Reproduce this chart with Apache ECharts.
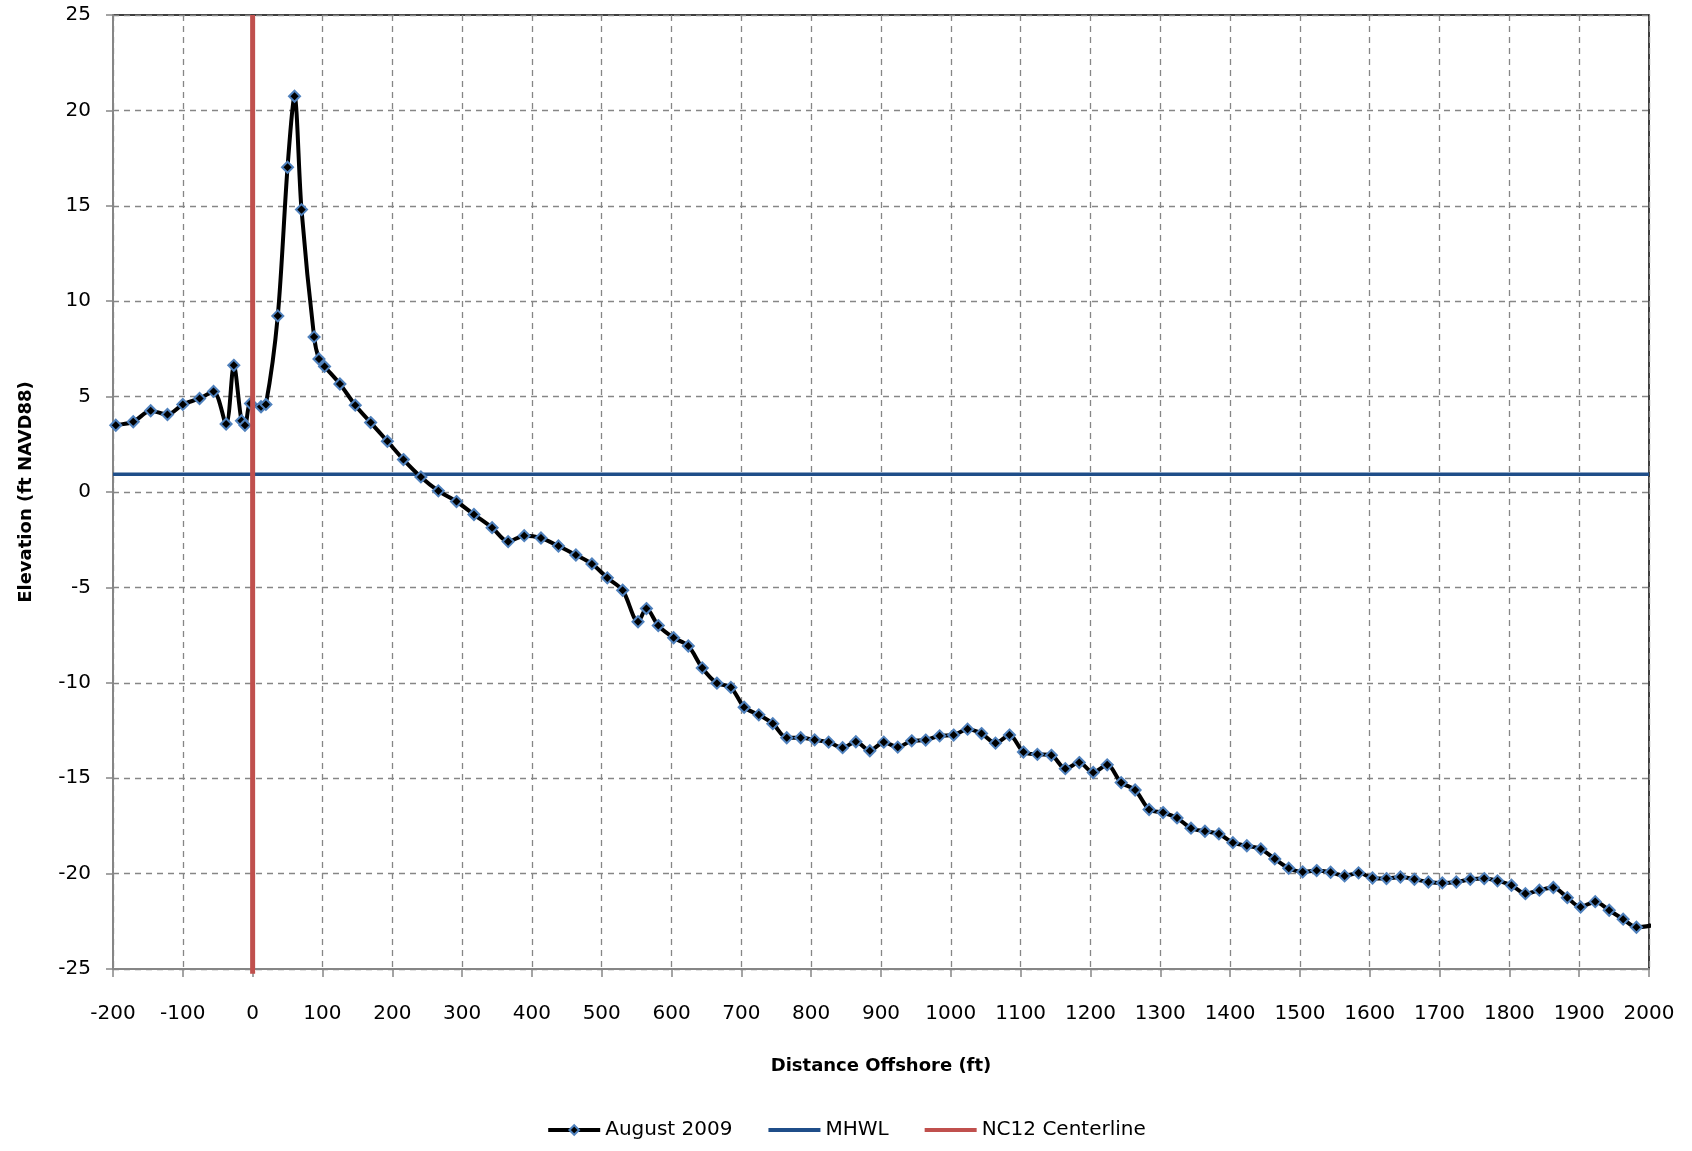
<!DOCTYPE html>
<html>
<head>
<meta charset="utf-8">
<script src="https://cdn.jsdelivr.net/npm/echarts@6/dist/echarts.min.js"></script>
<style>html,body{margin:0;padding:0;background:#fff;}#chart{width:1692px;height:1151px;}</style>
</head>
<body>
<div id="chart"></div>
<script>
// Distance offshore (ft) of each survey point, August 2009
const distance = [-204,-196,-171,-146,-122,-100,-76,-56,-38,-27,-16,-11,-3,12,19,36,50,60,70,88,95,103,125,147,169,
  193,216,241,266,292,317,343,366,389,413,438,463,486,508,530,552,564,581,603,624,644,
  665,685,704,725,745,765,785,805,825,845,864,884,904,924,944,964,984,1004,1024,1044,1064,1084,1104,1124,1144,1164,1184,1204,
  1224,1244,1264,1284,1304,1324,1344,1364,1384,1404,1424,1444,1464,1484,1504,1524,1544,1564,1584,1604,1624,1644,
  1664,1684,1704,1724,1744,1764,1783,1803,1823,1843,1863,1883,1902,1923,1943,1963,1982,2004];
// Elevation (ft NAVD88)
const elevation = [3.45,3.50,3.68,4.26,4.06,4.59,4.90,5.27,3.56,6.64,3.73,3.50,4.64,4.47,4.59,9.23,17.02,20.74,14.80,8.13,6.97,6.58,5.66,4.55,3.64,
  2.66,1.70,0.79,0.06,-0.50,-1.18,-1.87,-2.60,-2.29,-2.41,-2.83,-3.30,-3.77,-4.50,-5.15,-6.80,-6.11,-7.00,-7.64,-8.07,-9.22,
  -10.02,-10.24,-11.28,-11.68,-12.14,-12.88,-12.88,-12.99,-13.11,-13.40,-13.09,-13.56,-13.11,-13.37,-13.04,-13.00,-12.78,-12.74,-12.43,-12.66,-13.16,-12.74,-13.63,-13.75,-13.80,-14.50,-14.18,-14.70,
  -14.30,-15.23,-15.62,-16.64,-16.80,-17.08,-17.62,-17.78,-17.92,-18.38,-18.54,-18.71,-19.23,-19.72,-19.91,-19.84,-19.93,-20.12,-19.96,-20.23,-20.26,-20.18,
  -20.30,-20.44,-20.49,-20.44,-20.30,-20.26,-20.38,-20.61,-21.05,-20.87,-20.73,-21.26,-21.75,-21.47,-21.92,-22.39,-22.81,-22.72];
const mhwlElevation = 0.93;
const centerlineDistance = 0;
const xTicks = {min: -200, max: 2000, interval: 100};
const yTicks = {min: -25, max: 25, interval: 5};
const seriesNames = ['August 2009', 'MHWL', 'NC12 Centerline'];

const profile = distance.map((d, i) => [d, elevation[i]]);
const mhwl = [[xTicks.min, mhwlElevation], [xTicks.max, mhwlElevation]];
const centerline = [[centerlineDistance, yTicks.min - 0.25], [centerlineDistance, yTicks.max]];

const FONT = 'DejaVu Sans';
const hiddenMarker = {color: 'transparent', borderColor: 'transparent', borderWidth: 0};
const chart = echarts.init(document.getElementById('chart'), null, {renderer: 'canvas'});
chart.setOption({
  animation: false,
  backgroundColor: '#fff',
  textStyle: {fontFamily: FONT},
  grid: {left: 113, top: 15, right: 43, bottom: 182, show: true, borderColor: '#000', borderWidth: 1.5, backgroundColor: 'transparent'},
  legend: {
    bottom: 6, left: 'center', itemWidth: 52, itemHeight: 12, itemGap: 34,
    textStyle: {fontFamily: FONT, fontSize: 20, color: '#000'},
    lineStyle: {width: 4},
    data: [
      {name: seriesNames[0]},
      {name: seriesNames[1], itemStyle: hiddenMarker},
      {name: seriesNames[2], itemStyle: hiddenMarker}
    ]
  },
  xAxis: {
    type: 'value', min: xTicks.min, max: xTicks.max, interval: xTicks.interval,
    name: 'Distance Offshore (ft)', nameLocation: 'middle', nameGap: 88,
    nameTextStyle: {fontFamily: FONT, fontSize: 18, fontWeight: 'bold', color: '#000'},
    axisLine: {onZero: false, lineStyle: {color: '#868686', width: 2}},
    axisTick: {show: true, length: 8, lineStyle: {color: '#868686', width: 1.5}},
    axisLabel: {margin: 35, fontSize: 20, color: '#000', fontFamily: FONT, formatter: v => String(v)},
    splitLine: {show: true, lineStyle: {color: '#868686', width: 1.3, type: [6, 5]}}
  },
  yAxis: {
    type: 'value', min: yTicks.min, max: yTicks.max, interval: yTicks.interval,
    name: 'Elevation (ft NAVD88)', nameLocation: 'middle', nameGap: 78,
    nameTextStyle: {fontFamily: FONT, fontSize: 18, fontWeight: 'bold', color: '#000'},
    axisLine: {onZero: false, lineStyle: {color: '#868686', width: 2}},
    axisTick: {show: true, length: 7, lineStyle: {color: '#868686', width: 1.5}},
    axisLabel: {margin: 22, fontSize: 20, color: '#000', fontFamily: FONT, formatter: v => String(v)},
    splitLine: {show: true, lineStyle: {color: '#868686', width: 1.3, type: [6, 5]}}
  },
  series: [
    {
      name: seriesNames[1], type: 'line', data: mhwl, symbol: 'none', z: 3,
      lineStyle: {color: '#1F4E89', width: 3.5}, itemStyle: {color: '#1F4E89'}
    },
    {
      name: seriesNames[0], type: 'line', data: profile, smooth: 0.3, clip: true, z: 4,
      symbol: 'diamond', symbolSize: 11,
      lineStyle: {color: '#000', width: 4},
      itemStyle: {color: '#000', borderColor: '#4F81BD', borderWidth: 2}
    },
    {
      name: seriesNames[2], type: 'line', data: centerline, symbol: 'none', clip: false, z: 5,
      lineStyle: {color: '#C0504D', width: 5}, itemStyle: {color: '#C0504D'}
    }
  ]
});
</script>
</body>
</html>
